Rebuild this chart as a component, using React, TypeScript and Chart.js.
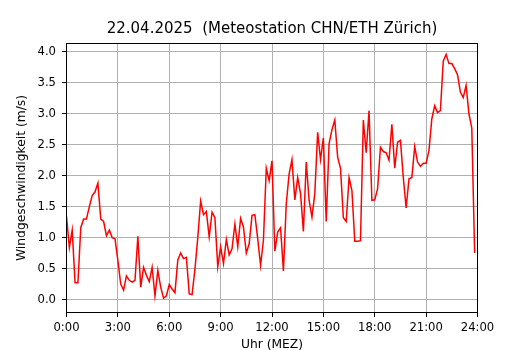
import { useEffect, useRef } from "react";
import { Chart, registerables } from "chart.js";

Chart.register(...registerables);

const TITLE = "22.04.2025  (Meteostation CHN/ETH Zürich)";
const X_LABEL = "Uhr (MEZ)";
const Y_LABEL = "Windgeschwindigkeit (m/s)";
const SAMPLE_MINUTES = 10;

// wind speed (m/s), one value every 10 minutes from 0:00 to 23:50
const windSpeed = [
  1.34, 0.84, 1.12, 0.27, 0.27, 1.16, 1.3, 1.3, 1.5, 1.68, 1.74, 1.88,
  1.3, 1.26, 1.03, 1.12, 1.0, 0.98, 0.63, 0.25, 0.15, 0.38, 0.31, 0.28,
  0.31, 1.02, 0.2, 0.52, 0.39, 0.29, 0.52, 0.06, 0.47, 0.2, 0.02, 0.06,
  0.24, 0.17, 0.11, 0.64, 0.75, 0.66, 0.68, 0.09, 0.08, 0.49, 1.0, 1.59,
  1.37, 1.42, 1.01, 1.41, 1.32, 0.53, 0.85, 0.58, 0.97, 0.72, 0.82, 1.22,
  0.85, 1.31, 1.17, 0.75, 0.9, 1.36, 1.37, 0.98, 0.55, 0.96, 2.12, 1.92,
  2.24, 0.78, 1.09, 1.16, 0.46, 1.55, 2.03, 2.26, 1.61, 1.97, 1.71, 1.1,
  2.22, 1.6, 1.33, 1.71, 2.7, 2.26, 2.61, 1.26, 2.52, 2.74, 2.9, 2.3,
  2.12, 1.32, 1.26, 1.97, 1.76, 0.94, 0.94, 0.95, 2.9, 2.37, 3.05, 1.6,
  1.61, 1.79, 2.46, 2.39, 2.37, 2.25, 2.83, 2.12, 2.54, 2.57, 1.97, 1.48,
  1.95, 1.97, 2.47, 2.22, 2.15, 2.2, 2.2, 2.41, 2.92, 3.13, 3.02, 3.05,
  3.85, 3.96, 3.81, 3.81, 3.73, 3.63, 3.35, 3.26, 3.46, 3.0, 2.77, 0.75,
];

const xTickHours = [0, 3, 6, 9, 12, 15, 18, 21, 24];
const yTickValues = [0, 0.5, 1.0, 1.5, 2.0, 2.5, 3.0, 3.5, 4.0];

const FONT = "DejaVu Sans";

const framePlugin = {
  id: "frame",
  afterDraw(chart: any) {
    const { ctx, chartArea } = chart;
    const { left, top, right, bottom } = chartArea;
    ctx.save();
    ctx.strokeStyle = "#000000";
    ctx.lineWidth = 1;
    ctx.strokeRect(left, top, right - left, bottom - top);
    // title centred over the plot area
    ctx.fillStyle = "#000000";
    ctx.font = `15px "${FONT}"`;
    ctx.textAlign = "center";
    ctx.textBaseline = "middle";
    ctx.fillText(TITLE, (left + right) / 2, 29);
    ctx.restore();
  },
};

export default function App() {
  const ref = useRef<HTMLCanvasElement>(null);

  useEffect(() => {
    document.body.style.margin = "0";
    const canvas = ref.current;
    if (!canvas) return;
    const points = windSpeed.map((v, i) => ({ x: (i * SAMPLE_MINUTES) / 60, y: v }));

    const chart = new Chart(canvas, {
      type: "line",
      data: {
        datasets: [
          {
            data: points,
            borderColor: "#ff0000",
            borderWidth: 1.5,
            pointRadius: 0,
            tension: 0,
            fill: false,
          },
        ],
      },
      plugins: [framePlugin],
      options: {
        responsive: false,
        animation: false,
        devicePixelRatio: 1,
        layout: { padding: { left: 0, right: 52.5, top: 0, bottom: 0 } },
        plugins: {
          legend: { display: false },
          tooltip: { enabled: false },
          title: {
            display: true,
            text: TITLE,
            color: "rgba(0,0,0,0)",
            font: { family: FONT, size: 15, weight: "normal", lineHeight: 1.2 },
            padding: { top: 20, bottom: 5.5 },
          },
        },
        scales: {
          x: {
            type: "linear",
            min: 0,
            max: 24,
            afterBuildTicks: (scale: any) => {
              scale.ticks = xTickHours.map((v) => ({ value: v }));
            },
            afterFit: (scale: any) => {
              scale.height = 37.5;
            },
            ticks: {
              autoSkip: false,
              maxRotation: 0,
              color: "#000000",
              padding: 4.3,
              font: { family: FONT, size: 11.6 },
              callback: (v: any) => `${v}:00`,
            },
            grid: {
              color: "#b0b0b0",
              lineWidth: 1,
              tickColor: "#000000",
              tickLength: 4.5,
            },
            border: { display: true, color: "#000000", width: 1 },
            title: {
              display: true,
              text: X_LABEL,
              color: "#000000",
              font: { family: FONT, size: 12.3, lineHeight: 1 },
              padding: { top: 0, bottom: -0.5 },
            },
          },
          y: {
            type: "linear",
            min: -0.21,
            max: 4.135,
            afterBuildTicks: (scale: any) => {
              scale.ticks = yTickValues.map((v) => ({ value: v }));
            },
            afterFit: (scale: any) => {
              scale.width = 66.5;
            },
            ticks: {
              color: "#000000",
              padding: 6,
              font: { family: FONT, size: 11.6 },
              callback: (v: any) => Number(v).toFixed(1),
            },
            grid: {
              color: "#b0b0b0",
              lineWidth: 1,
              tickColor: "#000000",
              tickLength: 4.5,
            },
            border: { display: true, color: "#000000", width: 1 },
            title: {
              display: true,
              text: Y_LABEL,
              color: "#000000",
              font: { family: FONT, size: 12.3, lineHeight: 1 },
              padding: { top: 15.3, bottom: 0 },
            },
          },
        },
      },
    } as any);

    return () => chart.destroy();
  }, []);

  return (
    <div style={{ width: 530, height: 350 }}>
      <canvas ref={ref} width={530} height={350} style={{ display: "block" }} />
    </div>
  );
}
